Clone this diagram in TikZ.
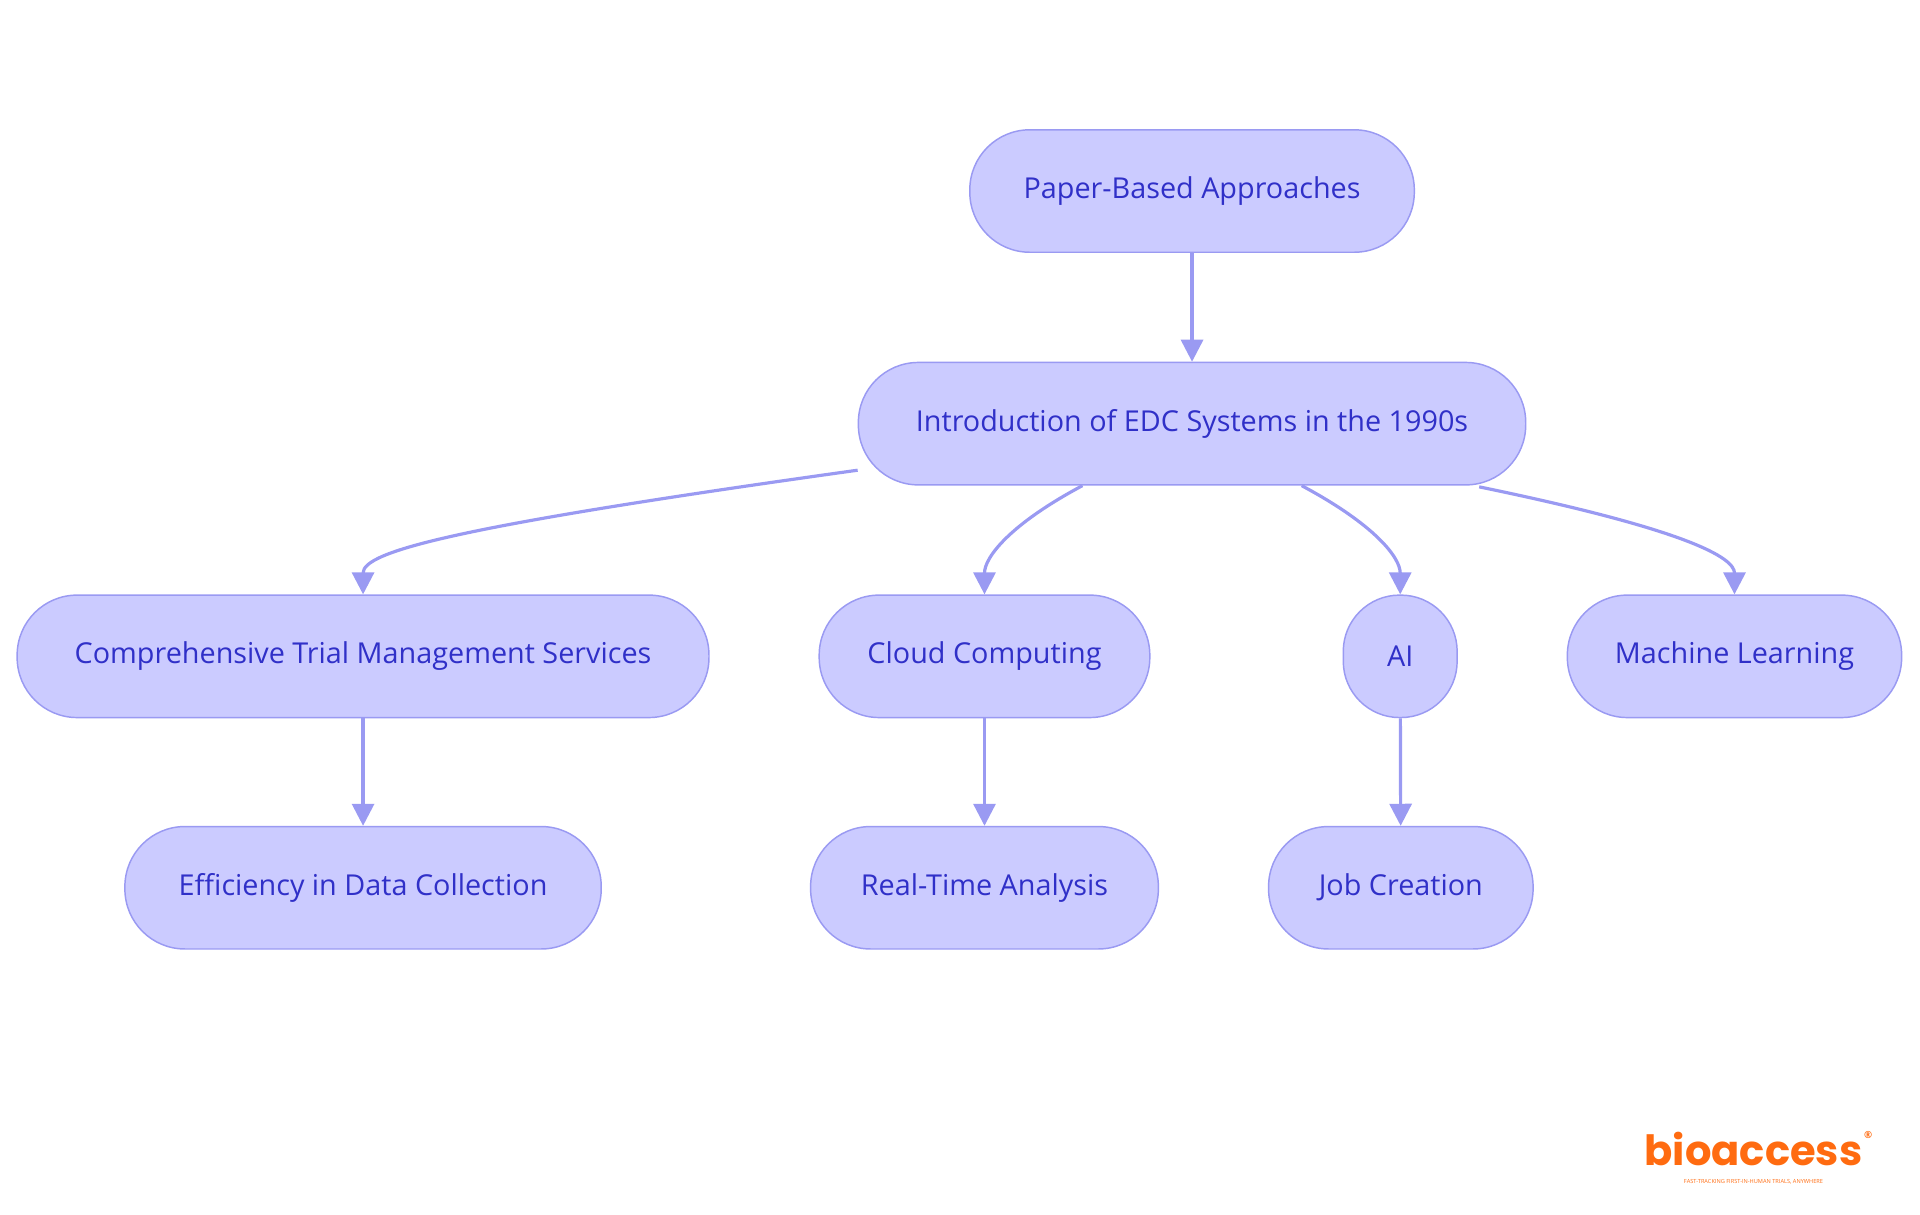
\documentclass[tikz,border=0pt]{standalone}
\usepackage{fontspec}
\setmainfont{Open Sans}
\newfontfamily\logofont{Poppins}
\usetikzlibrary{arrows.meta,calc}
\definecolor{nfill}{HTML}{CBCBFF}
\definecolor{nline}{HTML}{9A9AF2}
\definecolor{ntext}{HTML}{3030C8}
\definecolor{logo}{HTML}{FF6B10}
\begin{document}
\begin{tikzpicture}[x=1pt,y=-1pt,
  box/.style={draw=nline,line width=1.2pt,fill=nfill,text=ntext,rounded corners=49pt,minimum height=100pt,inner sep=0pt,font=\fontsize{23.5}{27}\selectfont},
  edge/.style={draw=nline,line width=2.6pt,-{Triangle[length=18pt,width=18pt]}}]
\useasboundingbox (0,0) rectangle (1568,992);
\node[box,minimum width=363pt] (paper) at (973.5,156) {Paper-Based Approaches};
\node[box,minimum width=545pt] (intro) at (973.5,346) {Introduction of EDC Systems in the 1990s};
\node[box,minimum width=565pt] (comp) at (296.5,536) {Comprehensive Trial Management Services};
\node[box,minimum width=270pt] (cloud) at (804,536) {Cloud Computing};
\node[box,minimum width=93pt,rounded corners=46pt] (ai) at (1143.5,536) {AI};
\node[box,minimum width=273pt] (ml) at (1416.5,536) {Machine Learning};
\node[box,minimum width=389pt] (eff) at (296.5,725) {Efficiency in Data Collection};
\node[box,minimum width=284pt] (rt) at (804,725) {Real-Time Analysis};
\node[box,minimum width=216pt] (job) at (1144,725) {Job Creation};
\coordinate (s1) at ($(intro.west)+(0,38)$);
\path (intro.south) ++(-89.5,0) coordinate (s2);
\path (intro.south) ++(89.5,0) coordinate (s3);
\path (intro.south) ++(234.5,1) coordinate (s4);
\draw[edge] (paper) -- (intro);
\draw[edge] (s1) .. controls +(-330,46) and +(0,-35) .. (comp.north);
\draw[edge] (s2) .. controls +(-60,32) and +(0,-30) .. (cloud.north);
\draw[edge] (s3) .. controls +(60,32) and +(0,-30) .. (ai.north);
\draw[edge] (s4) .. controls +(170,35) and +(0,-30) .. (ml.north);
\draw[edge] (comp) -- (eff);
\draw[edge] (cloud) -- (rt);
\draw[edge] (ai) -- (job);
\node[text=logo,font=\logofont\fontsize{34}{36}\selectfont\bfseries,inner sep=0pt] (lg) at (1432,938) {bioaccess};
\node[text=logo,font=\fontsize{8}{9}\selectfont\bfseries,inner sep=0pt,anchor=south west] (reg) at ($(lg.north east)+(1,6)$) {®};
\node[text=logo,font=\fontsize{4.6}{5}\selectfont,inner sep=0pt] (tag) at (1432,965) {FAST-TRACKING FIRST-IN-HUMAN TRIALS, ANYWHERE};
\end{tikzpicture}
\end{document}
